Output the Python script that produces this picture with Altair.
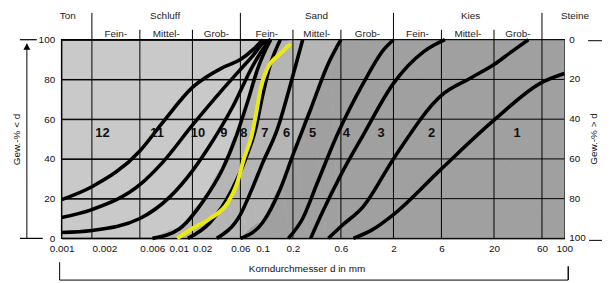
import altair as alt
import pandas as pd

# ---- grading curves (grain diameter d in mm, percent passing) ----
curve_names = ["A", "B", "C", "D", "E", "F", "G", "H", "I", "J", "K"]
curve_d = {
    "A": [0.001, 0.002, 0.006, 0.01, 0.02, 0.04, 0.06, 0.08, 0.1],
    "B": [0.001, 0.002, 0.006, 0.01, 0.02, 0.04, 0.06, 0.08, 0.1, 0.12],
    "C": [0.001, 0.002, 0.006, 0.012, 0.02, 0.03, 0.05, 0.08, 0.1, 0.12],
    "D": [0.008, 0.015, 0.025, 0.04, 0.055, 0.07, 0.09, 0.12],
    "E": [0.018, 0.03, 0.05, 0.07, 0.085, 0.1, 0.12, 0.15],
    "F": [0.035, 0.06, 0.08, 0.1, 0.14, 0.2, 0.25],
    "G": [0.06, 0.1, 0.15, 0.2, 0.3, 0.45, 0.6],
    "H": [0.18, 0.25, 0.35, 0.55, 1.0, 1.6, 2.0],
    "I": [0.3, 0.4, 0.6, 1.0, 2.0, 4.0, 6.5],
    "J": [0.45, 0.6, 1.0, 2.0, 6.0, 12.0, 20.0, 30.0, 44.0],
    "K": [0.8, 1.2, 2.0, 6.0, 20.0, 60.0, 100.0],
}
curve_p = {
    "A": [19.5, 26, 44, 58, 76, 86, 90, 95, 100],
    "B": [10.5, 14.5, 27, 38, 57, 75, 85, 92, 98, 100],
    "C": [3, 4, 10, 21, 34, 47, 66, 87, 95, 100],
    "D": [0, 5, 18, 35, 52, 68, 86, 100],
    "E": [0, 8, 25, 42, 55, 72, 88, 100],
    "F": [0, 12, 26, 38, 55, 82, 100],
    "G": [0, 8, 25, 42, 65, 88, 100],
    "H": [0, 10, 28, 52, 78, 95, 100],
    "I": [0, 14, 32, 52, 78, 94, 100],
    "J": [0, 6, 16, 40, 72, 81, 87.5, 94, 100],
    "K": [0, 4, 12, 35, 59.5, 78.5, 83],
}
yellow_d = [0.0141, 0.02, 0.03, 0.045, 0.055, 0.065, 0.078, 0.087, 0.095, 0.11, 0.15, 0.19]
yellow_p = [0, 5, 10, 18, 27, 40, 52, 64, 75, 85, 93, 98]

# region numbers
region_labels = ["12", "11", "10", "9", "8", "7", "6", "5", "4", "3", "2", "1"]
region_d = [0.00255, 0.0089, 0.0227, 0.041, 0.065, 0.105, 0.173, 0.313, 0.68, 1.51, 4.8, 34]
region_p = [53] * 12

# axes
x_tick_values = [0.001, 0.002, 0.006, 0.01, 0.02, 0.06, 0.1, 0.2, 0.6, 2, 6, 20, 60, 100]
x_grid_values = [0.002, 0.006, 0.02, 0.06, 0.2, 0.6, 2, 6, 20, 60]
y_values = [0, 20, 40, 60, 80, 100]
right_labels = ["0", "20", "40", "60", "80", "100"]
right_p = [100, 80, 60, 40, 20, 0]
x_title = ["Korndurchmesser d in mm"]
left_title = "Gew.-% < d"
right_title_text = ["Gew.-% > d"]

# header (soil classes)
head1_text = ["Ton", "Schluff", "Sand", "Kies", "Steine"]
head1_d = [0.00115, 0.0107, 0.343, 11.7, 128]
head2_text = ["Fein-", "Mittel-", "Grob-", "Fein-", "Mittel-", "Grob-", "Fein-", "Mittel-", "Grob-"]
head2_d = [0.00346, 0.011, 0.0346, 0.11, 0.346, 1.1, 3.46, 11, 34.6]
major_sep = [0.002, 0.06, 2, 60]
minor_sep = [0.006, 0.02, 0.2, 0.6, 6, 20]

# ---- tables ----
rows = []
for c in curve_names:
    for i, (d, p) in enumerate(zip(curve_d[c], curve_p[c])):
        rows.append({"curve": c, "d": d, "p": p, "order": i})
curves = pd.DataFrame(rows)
yellow = pd.DataFrame({"d": yellow_d, "p": yellow_p, "order": range(len(yellow_d))})


def area_df(name):
    d = curve_d[name] + [100.0]
    p = curve_p[name] + [100.0]
    return pd.DataFrame({"d": d, "p": p, "order": range(len(d))})


xs = alt.Scale(type="log", domain=[0.001, 100])
ys = alt.Scale(domain=[0, 100])

W, H = 506, 200

x_axis = alt.Axis(
    values=x_tick_values,
    labelExpr="format(datum.value, '~g')",
    labelOverlap=False,
    labelBound=False,
    labelFlush=False,
    labelAlign=alt.condition(
        "datum.value > 0.0015 && datum.value < 0.025",
        alt.value("left"),
        alt.value("center"),
    ),
    labelOffset=alt.condition("datum.value == 0.01", alt.value(7), alt.value(0)),
    ticks=False,
    domain=False,
    grid=False,
    labelPadding=5,
    labelFontSize=10,
    labelColor="#111",
    title=None,
)
y_axis = alt.Axis(
    values=y_values,
    tickCount=6,
    labelOverlap=False,
    labelBound=False,
    labelFlush=False,
    ticks=False,
    domain=False,
    grid=True,
    gridColor="black",
    gridOpacity=1,
    gridWidth=1,
    labelPadding=7,
    labelFontSize=10,
    labelColor="#111",
    title=left_title,
    titleFontSize=10,
    titleFontWeight="normal",
    titleColor="#111",
    titleX=-40,
    titleY=100,
)

X = alt.X("d:Q", scale=xs, axis=x_axis)
Y = alt.Y("p:Q", scale=ys, axis=y_axis)

hatch_area = alt.Chart(area_df("D")).mark_area(
    interpolate="monotone", color="#b5b5b5", opacity=1
).encode(x=X, y=Y, order="order:Q")

dot_area = alt.Chart(area_df("G")).mark_area(
    interpolate="monotone", color="#a0a0a0", opacity=1
).encode(x=X, y=Y, order="order:Q")

grid_x = alt.Chart(pd.DataFrame({"d": x_grid_values})).mark_rule(
    color="black", strokeWidth=1
).encode(x=X)

grid_y = alt.Chart(pd.DataFrame({"p": y_values})).mark_rule(
    color="black", strokeWidth=1
).encode(y=Y)

lines = alt.Chart(curves).mark_line(
    color="black", strokeWidth=3.6, interpolate="monotone"
).encode(x=X, y=Y, detail="curve:N", order="order:Q")

yellow_line = alt.Chart(yellow).mark_line(
    color="#eaea12", strokeWidth=4, interpolate="monotone"
).encode(x=X, y=Y, order="order:Q")

regions = alt.Chart(
    pd.DataFrame({"d": region_d, "p": region_p, "t": region_labels})
).mark_text(fontSize=13, fontWeight="bold", color="#111").encode(
    x=X, y=Y, text="t:N"
)

head1 = alt.Chart(pd.DataFrame({"d": head1_d, "t": head1_text})).mark_text(
    fontSize=10, color="#222", baseline="middle"
).encode(x=X, y=alt.value(-24), text="t:N")

head2 = alt.Chart(pd.DataFrame({"d": head2_d, "t": head2_text})).mark_text(
    fontSize=10, color="#222", baseline="middle"
).encode(x=X, y=alt.value(-6), text="t:N")

sep_major = alt.Chart(pd.DataFrame({"d": major_sep})).mark_rule(
    color="black", strokeWidth=1
).encode(x=X, y=alt.value(-27), y2=alt.value(0))

sep_minor = alt.Chart(pd.DataFrame({"d": minor_sep})).mark_rule(
    color="black", strokeWidth=1
).encode(x=X, y=alt.value(-10), y2=alt.value(0))

right_axis = alt.Chart(pd.DataFrame({"p": right_p, "t": right_labels})).mark_text(
    fontSize=10, color="#111", align="left", baseline="middle"
).encode(x=alt.value(W + 5), y=Y, text="t:N")

right_title = alt.Chart(pd.DataFrame({"t": right_title_text})).mark_text(
    fontSize=10, color="#111", angle=270, baseline="middle"
).encode(x=alt.value(W + 30), y=alt.value(H / 2), text="t:N")

bottom_title = alt.Chart(pd.DataFrame({"t": x_title})).mark_text(
    fontSize=10, color="#111", baseline="middle"
).encode(x=alt.value(247), y=alt.value(H + 31), text="t:N")

# decorations (arrows / frame lines outside the plot)
one = pd.DataFrame({"k": [0]})
deco_v = alt.Chart(one).mark_rule(color="black", strokeWidth=1).encode(
    x=alt.value(-35), y=alt.value(4), y2=alt.value(H)
)
deco_t1 = alt.Chart(one).mark_rule(color="black", strokeWidth=1.2).encode(
    x=alt.value(-42), x2=alt.value(-25), y=alt.value(0)
)
deco_t2 = alt.Chart(one).mark_rule(color="black", strokeWidth=1.2).encode(
    x=alt.value(-42), x2=alt.value(-19), y=alt.value(H)
)
deco_arrow = alt.Chart(one).mark_point(
    shape="triangle-up", filled=True, color="black", size=50, opacity=1
).encode(x=alt.value(-35), y=alt.value(7))
deco_r1 = alt.Chart(one).mark_rule(color="black", strokeWidth=1).encode(
    x=alt.value(W + 24), x2=alt.value(W + 42), y=alt.value(1)
)
deco_r2 = alt.Chart(one).mark_rule(color="black", strokeWidth=1).encode(
    x=alt.value(W + 25), x2=alt.value(W + 42), y=alt.value(H + 2)
)
deco_b1 = alt.Chart(one).mark_rule(color="black", strokeWidth=1).encode(
    x=alt.value(-2), y=alt.value(H + 24), y2=alt.value(H + 42)
)
deco_b2 = alt.Chart(one).mark_rule(color="black", strokeWidth=1).encode(
    x=alt.value(-2), x2=alt.value(W + 4), y=alt.value(H + 42)
)
deco_b3 = alt.Chart(one).mark_rule(color="black", strokeWidth=1.4).encode(
    x=alt.value(W + 4), y=alt.value(H + 28), y2=alt.value(H + 42)
)

chart = alt.layer(
    hatch_area, dot_area, grid_x, grid_y, lines, yellow_line, regions,
    head1, head2, sep_major, sep_minor, right_axis, right_title, bottom_title,
    deco_v, deco_t1, deco_t2, deco_arrow, deco_r1, deco_r2, deco_b1, deco_b2, deco_b3,
).properties(
    width=W, height=H,
    autosize=alt.AutoSizeParams(type="none"),
    padding={"left": 54, "top": 31, "right": 38, "bottom": 44},
).configure(font="Liberation Sans").configure_view(
    fill="#c9c9c9", stroke="black", strokeWidth=1.5
)

chart.save("out.html", embed_options={"renderer": "svg", "actions": False})
